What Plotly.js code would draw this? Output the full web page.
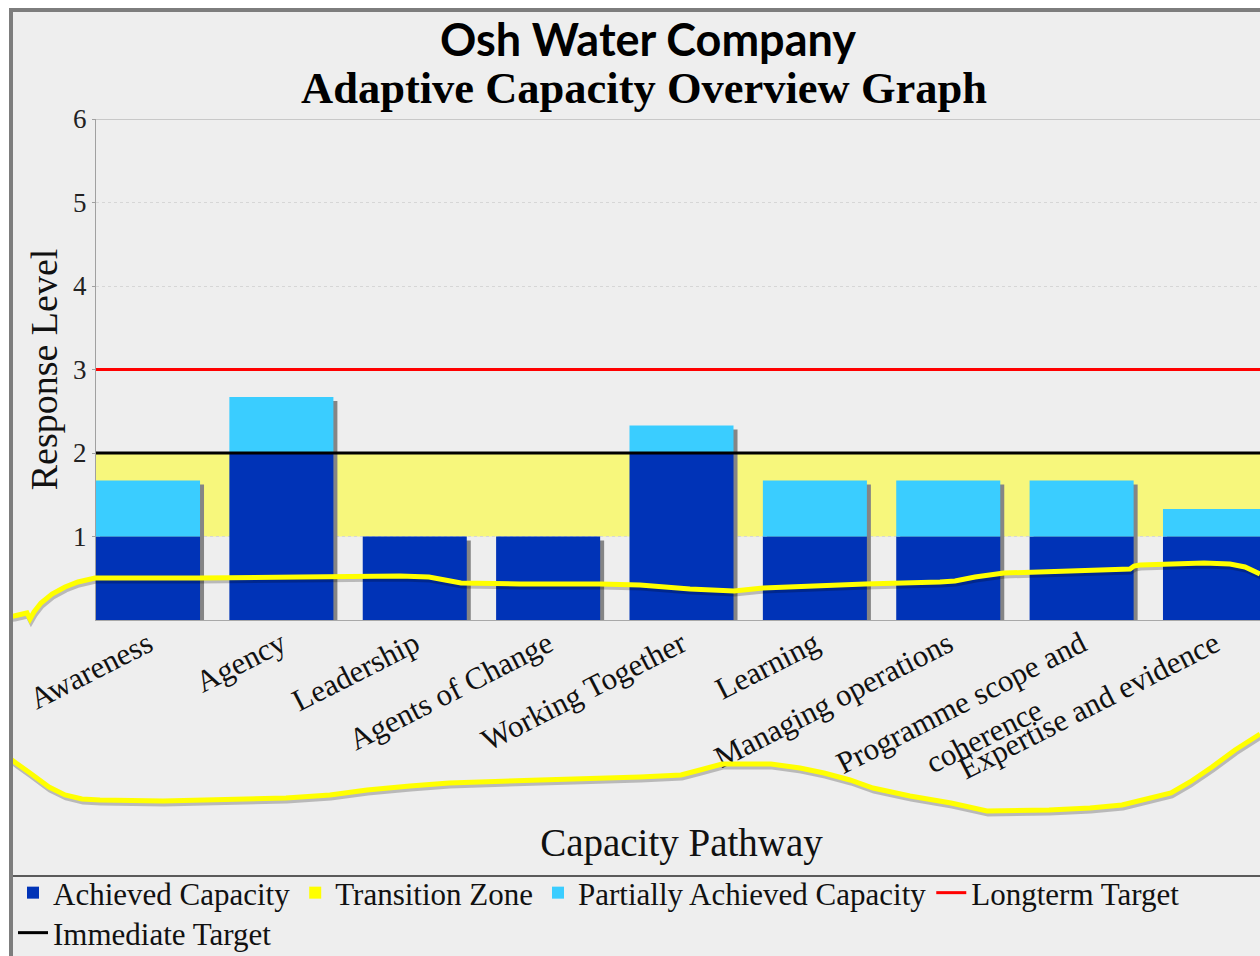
<!DOCTYPE html>
<html>
<head>
<meta charset="utf-8">
<script src="https://cdn.plot.ly/plotly-3.0.1.min.js"></script>
<style>
  html, body { margin: 0; padding: 0; background: #ffffff; overflow: hidden; width: 1260px; height: 956px; }
  #chart { position: absolute; left: 9px; top: 8px; width: 1270px; height: 960px;
           border-left: 4px solid #7d7d7d; border-top: 4px solid #7d7d7d; }
</style>
</head>
<body>
<div id="chart"></div>
<script>
// ---------------- data ----------------
const categories = ['Awareness', 'Agency', 'Leadership', 'Agents of Change', 'Working Together',
  'Learning', 'Managing operations',
  'Programme scope and<br>coherence&nbsp;&nbsp;&nbsp;&nbsp;&nbsp;&nbsp;&nbsp;&nbsp;&nbsp;',
  'Expertise and evidence'];
const achievedCapacity = [1, 2, 1, 1, 2, 1, 1, 1, 1];
const partiallyAchieved = [0.67, 0.67, 0, 0, 0.33, 0.67, 0.67, 0.67, 0.33];
const transitionZone = [1, 2];
const longtermTarget = 3;
const immediateTarget = 2;
const yTickValues = [1, 2, 3, 4, 5, 6];

// ---------------- hand-drawn highlight strokes (page pixel positions) ----------------
const strokeUpper = [[0,617],[14,616],[27,613],[30,619],[34,612],[41,603],[52,594],[65,587],[78,582],[95,578],
  [200,578],[300,577],[400,576],[429,577],[445,580],[461,583],[520,584],[600,584],[640,585],[690,589],[734,591],
  [763,588],[865,584],[940,582],[955,581],[975,577],[1004,573],[1070,571],[1130,569],[1134,566],[1140,565],
  [1204,563],[1230,564],[1245,567],[1260,574]];
const strokeLower = [[0,750],[8,757],[16,763],[30,773],[49,787],[65,795],[82,799],[100,800],[163,801],[286,798],
  [330,795],[367,790],[410,786],[449,783],[540,780],[640,777],[681,775],[700,770],[722,764],[771,764],[800,768],
  [824,773],[850,780],[873,788],[910,796],[951,803],[987,811],[1049,810],[1090,808],[1122,805],[1171,793],
  [1190,782],[1212,767],[1235,750],[1260,734]];

// ---------------- layout geometry ----------------
const W = 1270, H = 960;
const M = {l: 83, r: 16, t: 107, b: 352};
const plotW = W - M.l - M.r, plotH = H - M.t - M.b;
const pageOffX = 13, pageOffY = 12;
const xRange = [-0.39, 8.39];
const barWidth = 0.78;
const serif = 'Liberation Serif, Times New Roman, serif';

function px(xPage) { return (xPage - pageOffX - M.l) / plotW; }
function py(yPage) { return (M.t + plotH - (yPage - pageOffY)) / plotH; }
function pathFrom(points, dx, dy) {
  return points.map((p, i) => (i ? 'L' : 'M') + px(p[0] + dx).toFixed(5) + ',' + py(p[1] + dy).toFixed(5)).join(' ');
}

const idx = categories.map((c, i) => i);
const totals = achievedCapacity.map((a, i) => a + partiallyAchieved[i]);

const traces = [
  { type: 'bar', x: idx, y: totals.map(t => t - 0.048), width: barWidth, offset: -barWidth / 2 + 0.03,
    marker: {color: '#858585'}, showlegend: false, hoverinfo: 'skip' },
  { type: 'bar', name: 'Achieved Capacity', x: idx, y: achievedCapacity, width: barWidth,
    marker: {color: '#0033b7'} },
  { type: 'bar', name: 'Transition Zone', x: [null], y: [null], marker: {color: '#ffff00'} },
  { type: 'bar', name: 'Partially Achieved Capacity', x: idx, y: partiallyAchieved, base: achievedCapacity,
    width: barWidth, marker: {color: '#3acdff'} },
  { type: 'scatter', mode: 'lines', name: 'Longterm Target', x: xRange, y: [longtermTarget, longtermTarget],
    line: {color: '#ff0000', width: 3} },
  { type: 'scatter', mode: 'lines', name: 'Immediate Target', x: xRange, y: [immediateTarget, immediateTarget],
    line: {color: '#000000', width: 3}, legend: 'legend2' }
];

const shapes = [
  { type: 'rect', xref: 'paper', yref: 'y', x0: 0, x1: 1, y0: transitionZone[0], y1: transitionZone[1],
    fillcolor: '#f7f77c', line: {width: 0}, layer: 'below' },
  { type: 'line', xref: 'paper', yref: 'y', x0: 0, x1: 1, y0: 6, y1: 6, line: {color: '#c8c8c8', width: 2}, layer: 'below' },
  // legend box top edge
  { type: 'line', xref: 'paper', yref: 'paper', x0: px(13), x1: px(1290), y0: py(876), y1: py(876),
    line: {color: '#5a5a5a', width: 2} },
  // highlight strokes with soft shadow
  { type: 'path', xref: 'paper', yref: 'paper', path: pathFrom(strokeUpper, 1, 3), line: {color: 'rgba(0,0,0,0.22)', width: 5} },
  { type: 'path', xref: 'paper', yref: 'paper', path: pathFrom(strokeLower, 1, 3), line: {color: 'rgba(0,0,0,0.22)', width: 5} },
  { type: 'path', xref: 'paper', yref: 'paper', path: pathFrom(strokeUpper, 0, 0), line: {color: '#ffff00', width: 5} },
  { type: 'path', xref: 'paper', yref: 'paper', path: pathFrom(strokeLower, 0, 0), line: {color: '#ffff00', width: 5} }
];

const legendFont = {family: serif, size: 31, color: '#111'};

const layout = {
  width: W, height: H,
  margin: M,
  paper_bgcolor: '#eeeeee', plot_bgcolor: '#eeeeee',
  barmode: 'overlay',
  hovermode: false,
  title: { text: 'Osh Water Company', font: {family: 'Lato, sans-serif', size: 45, weight: 700, color: '#000'},
    x: 0.5, xref: 'container', y: 1 - 28 / H, yref: 'container', yanchor: 'middle' },
  annotations: [
    { text: '<b>Adaptive Capacity Overview Graph</b>', xref: 'paper', yref: 'paper',
      x: px(644), y: py(88), xanchor: 'center', yanchor: 'middle', showarrow: false,
      font: {family: serif, size: 44.5, color: '#000'} }
  ],
  xaxis: {
    range: xRange, tickmode: 'array', tickvals: idx, ticktext: categories, tickangle: -27,
    showgrid: false, zeroline: false, showline: true, linecolor: '#a8a8a8', linewidth: 1, ticks: '',
    ticklabelstandoff: -7,
    tickfont: {family: serif, size: 31, color: '#111'},
    title: {text: 'Capacity Pathway', font: {family: serif, size: 39, color: '#111'}, standoff: 12}
  },
  yaxis: {
    range: [0, 6], tickmode: 'array', tickvals: yTickValues,
    showgrid: true, gridcolor: '#d6d6d6', griddash: 'dot', gridwidth: 1,
    zeroline: false, showline: true, linecolor: '#a0a0a0', linewidth: 1,
    ticks: 'outside', ticklen: 3, tickcolor: '#a0a0a0',
    tickfont: {family: serif, size: 27, color: '#222'},
    title: {text: 'Response Level', font: {family: serif, size: 38, color: '#111'}, standoff: 3}
  },
  legend: {
    orientation: 'h', xref: 'container', yref: 'container', x: 0, xanchor: 'left', y: 1 - 854 / H, yanchor: 'top',
    font: legendFont, bgcolor: 'rgba(0,0,0,0)', traceorder: 'normal'
  },
  legend2: {
    orientation: 'h', xref: 'container', yref: 'container', x: 0, xanchor: 'left', y: 1 - 894 / H, yanchor: 'top',
    font: legendFont, bgcolor: 'rgba(0,0,0,0)'
  },
  shapes: shapes
};

Plotly.newPlot('chart', traces, layout, {displayModeBar: false, staticPlot: true});
</script>
</body>
</html>
